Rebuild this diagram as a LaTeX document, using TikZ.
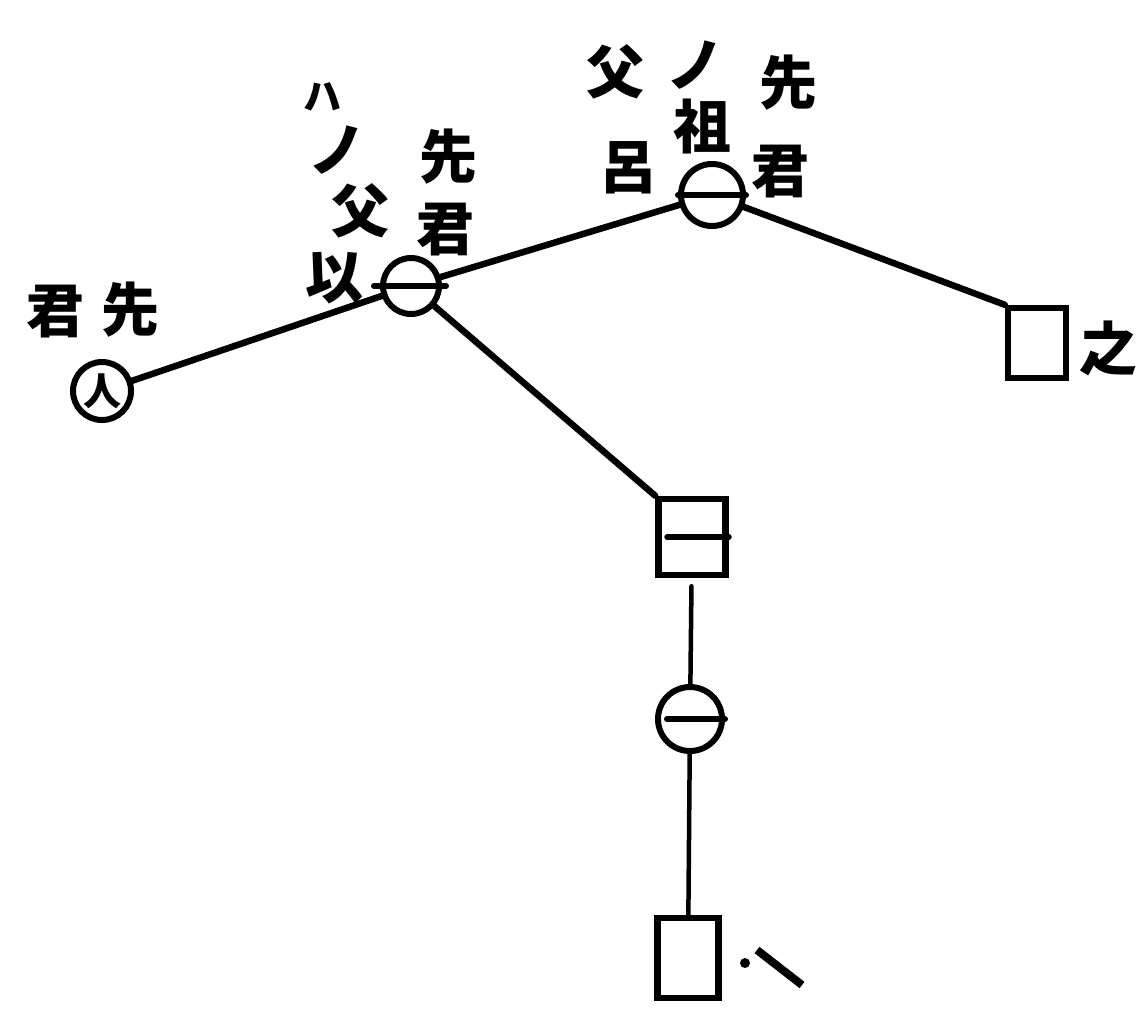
\documentclass[tikz,border=0pt]{standalone}
\usepackage{fontspec}
\newfontfamily\cjk{Noto Sans CJK JP}
\begin{document}
\begin{tikzpicture}[x=1pt,y=-1pt,
  ink/.style={line width=6.5pt,line cap=round},
  thin ink/.style={line width=4.5pt,line cap=round},
  bar/.style={line width=6pt,line cap=round},
  circ/.style={circle,draw,line width=6pt,inner sep=0pt,minimum size=#1},
  sq/.style={rectangle,draw,line width=6.5pt,inner sep=0pt,minimum width=#1},
  lab/.style={font=\cjk\bfseries\fontsize{58}{58}\selectfont,inner sep=0pt},
  smalllab/.style={font=\cjk\bfseries\fontsize{38}{38}\selectfont,inner sep=0pt}]
\useasboundingbox (0,0) rectangle (1145,1018);
\fill[white] (0,0) rectangle (1145,1018);

% nodes
\node[circ=58pt,font=\cjk\bfseries\fontsize{38}{38}\selectfont] (A) at (102,391) {人};
\node[circ=56pt] (B) at (411,286) {};
\node[circ=62pt] (C) at (712,195) {};
\node[sq=58pt,minimum height=70pt] (D) at (1037,343) {};
\node[sq=67pt,minimum height=76pt] (E) at (692,537) {};
\node[circ=64pt] (F) at (690,719) {};
\node[sq=61pt,minimum height=80pt] (G) at (688,958) {};

% inner bars
\draw[bar] ([xshift=-6pt]B.west) -- ([xshift=4pt]B.east);
\draw[bar] (C.west) -- (C.east);
\draw[bar] ([xshift=12pt]E.west) -- (E.east);
\draw[bar] ([xshift=12pt]F.west) -- (F.east);

% connectors
\draw[ink] (A) -- (B);
\draw[ink] (B) -- (C);
\draw[ink] (C) -- (D.north west);
\draw[ink] (B) -- (E.north west);
\draw[thin ink,shorten <=8pt] (E) -- (F);
\draw[thin ink] (F) -- (G);

% labels
\node[lab] (l1) at (56,312) {君};
\node[lab] (l2) at (130,310) {先};

\node[smalllab] (l3) at (322,97) {ハ};
\node[lab] (l4) at (337,150) {ノ};
\node[lab] (l5) at (360,211) {父};
\node[lab] (l6) at (334,278) {以};
\node[lab] (l7) at (448,157) {先};
\node[lab] (l8) at (445,230) {君};

\node[lab] (l9) at (615,72) {父};
\node[lab] (l10) at (695,65) {ノ};
\node[lab] (l11) at (702,127) {祖};
\node[lab] (l12) at (628,168) {呂};
\node[lab] (l13) at (788,83) {先};
\node[lab] (l14) at (780,172) {君};

\node[lab] (l15) at (1108,348) {之};

% mark beside bottom square
\coordinate (m1) at (757,950);
\coordinate (m2) at (802,985);
\fill (745,963) circle (5pt);
\draw[line width=8pt] (m1) -- (m2);
\end{tikzpicture}
\end{document}
